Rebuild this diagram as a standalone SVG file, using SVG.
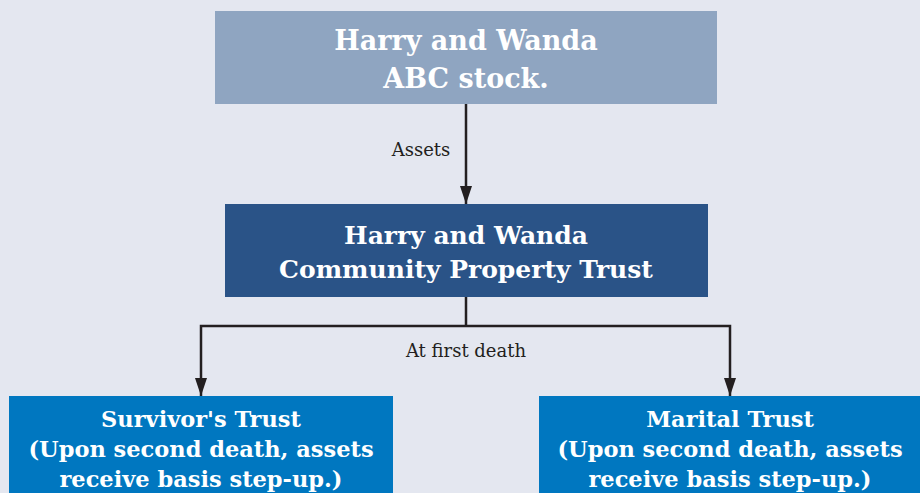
<svg xmlns="http://www.w3.org/2000/svg" width="920" height="493" viewBox="0 0 920 493">
  <style>
    .title { font-family: "DejaVu Serif", "Liberation Serif", serif; font-weight: bold; fill: #ffffff; text-anchor: middle; }
    .label { font-family: "DejaVu Serif", "Liberation Serif", serif; font-size: 18px; fill: #231f20; text-anchor: middle; }
    .wire { fill: none; stroke: #231f20; stroke-width: 2.5; }
  </style>
  <defs>
    <marker id="head" markerUnits="userSpaceOnUse" markerWidth="20" markerHeight="14" refX="18" refY="7" orient="auto">
      <path d="M0,1 L18,7 L0,13 Z" fill="#231f20"/>
    </marker>
  </defs>

  <rect width="920" height="493" fill="#e4e7f0"/>

  <g id="connectors">
    <line class="wire" x1="466" y1="104" x2="466" y2="204" marker-end="url(#head)"/>
    <text class="label" x="421" y="156">Assets</text>
    <polyline class="wire" points="466,297 466,326"/>
    <polyline class="wire" points="466,326 201,326 201,396" marker-end="url(#head)"/>
    <polyline class="wire" points="466,326 730,326 730,396" marker-end="url(#head)"/>
    <text class="label" x="466" y="357">At first death</text>
  </g>

  <g id="node-stock">
    <rect x="215" y="11" width="502" height="93" fill="#8fa5c1"/>
    <text class="title" font-size="27" x="466" y="50">Harry and Wanda</text>
    <text class="title" font-size="27" x="466" y="88">ABC stock.</text>
  </g>

  <g id="node-cpt">
    <rect x="225" y="204" width="483" height="93" fill="#2a5387"/>
    <text class="title" font-size="25" x="466" y="244">Harry and Wanda</text>
    <text class="title" font-size="25" x="466" y="278">Community Property Trust</text>
  </g>

  <g id="node-survivor">
    <rect x="9" y="396" width="384" height="100" fill="#0077c0"/>
    <text class="title" font-size="22.5" x="201" y="427">Survivor's Trust</text>
    <text class="title" font-size="22.5" x="201" y="457">(Upon second death, assets</text>
    <text class="title" font-size="22.5" x="201" y="487">receive basis step-up.)</text>
  </g>

  <g id="node-marital">
    <rect x="539" y="396" width="384" height="100" fill="#0077c0"/>
    <text class="title" font-size="22.5" x="730" y="427">Marital Trust</text>
    <text class="title" font-size="22.5" x="730" y="457">(Upon second death, assets</text>
    <text class="title" font-size="22.5" x="730" y="487">receive basis step-up.)</text>
  </g>
</svg>
